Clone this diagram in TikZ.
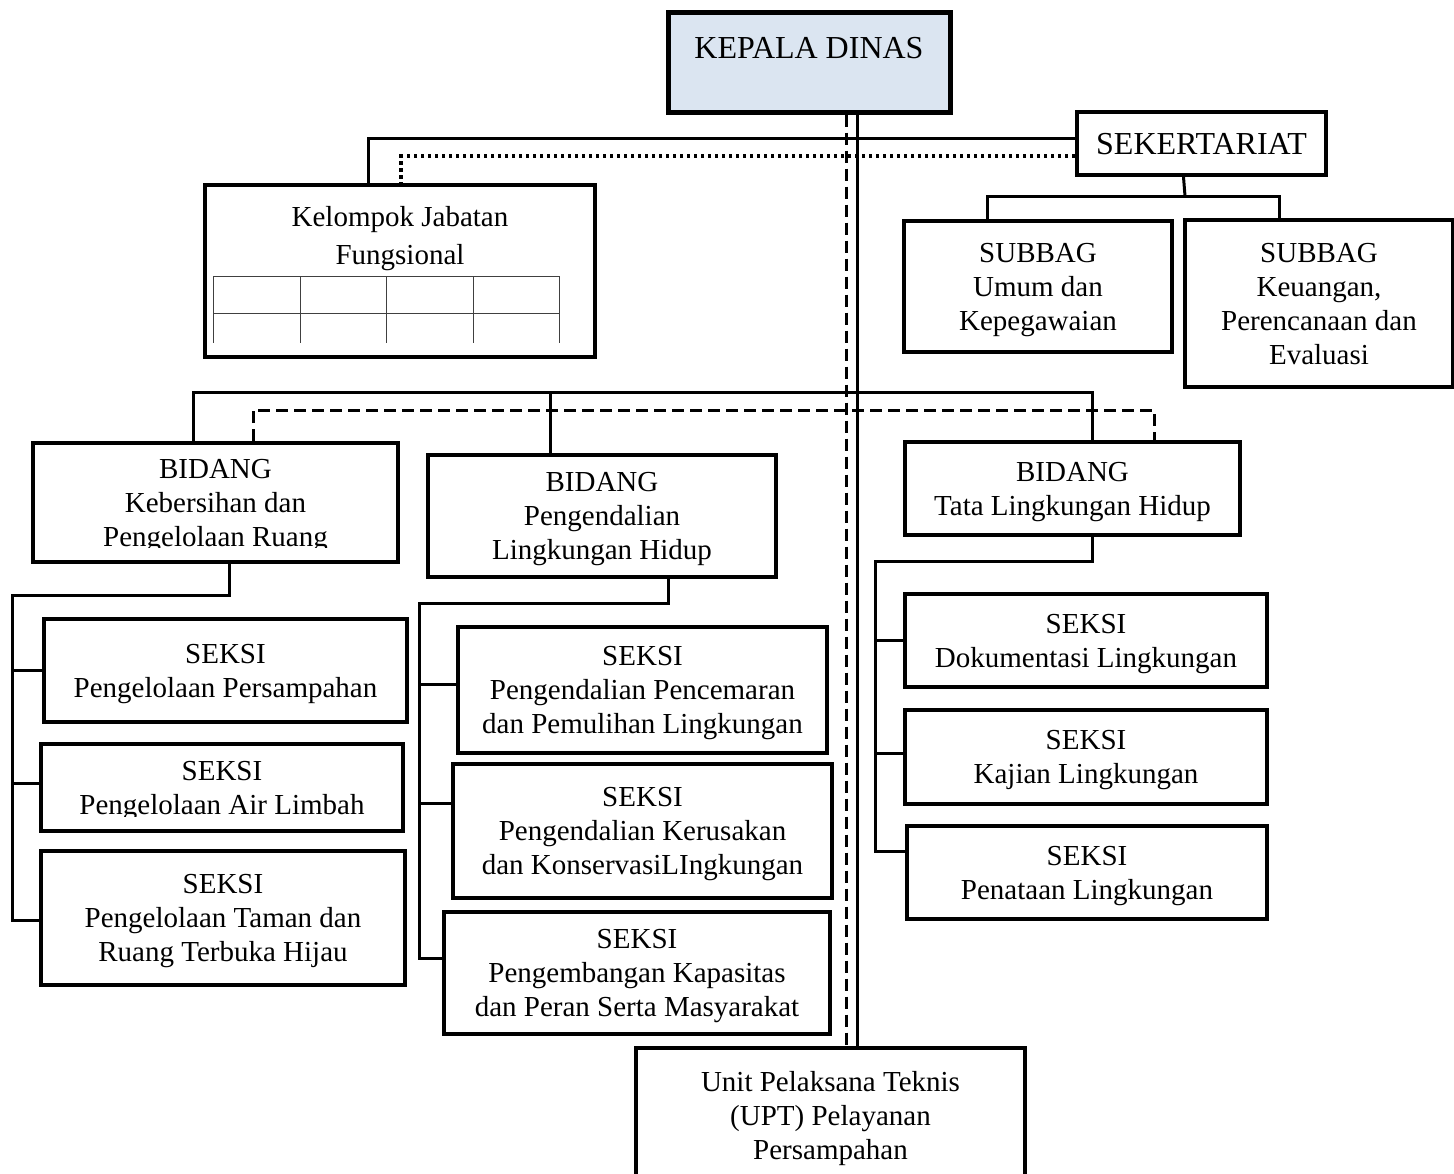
\documentclass[tikz,border=0pt]{standalone}
\usepackage{fontspec}
\setmainfont{Liberation Serif}
\definecolor{kepalablue}{HTML}{DBE5F1}
\begin{document}
\begin{tikzpicture}[x=1pt,y=-1pt,
  unit/.style={draw=black,line width=4pt,rectangle,inner sep=0pt,align=center,text depth=-3pt,font=\fontsize{29}{34}\selectfont},
  caption/.style={inner sep=0pt,align=center,font=\fontsize{29}{34}\selectfont},
  conn/.style={line width=3pt},
  conndash/.style={line width=3pt,dash pattern=on 12pt off 6pt},
  conndot/.style={line width=3.5pt,dash pattern=on 3.5pt off 3.5pt},
  tablegrid/.style={line width=1pt,black!75}]
\useasboundingbox (0,0) rectangle (1454,1173);

%top
\node[unit,fill=kepalablue,line width=5pt,minimum width=282pt,minimum height=100pt,font=\fontsize{32}{34}\selectfont] (kd) at (809,62) {KEPALA DINAS\\[-6pt]~};
\node[unit,minimum width=249pt,minimum height=63pt,font=\fontsize{32}{34}\selectfont] (sek) at (1201.5,143.5) {SEKERTARIAT};
\node[unit,minimum width=268pt,minimum height=131pt] (sb1) at (1038,286.5) {SUBBAG\\Umum dan\\Kepegawaian};
\node[unit,minimum width=268pt,minimum height=167pt] (sb2) at (1319,303.5) {SUBBAG\\Keuangan,\\Perencanaan dan\\Evaluasi};

%kelompok jabatan fungsional
\node[unit,minimum width=390pt,minimum height=172pt] (kjf) at (400,271) {};
\node[caption] (kjftext) at (400,239) {Kelompok Jabatan\\[4pt]Fungsional};
\foreach \x in {213,300,386,473,559}
  \draw[tablegrid] (\x,276) -- (\x,343);
\foreach \y in {276,313}
  \draw[tablegrid] (213,\y) -- (559,\y);

%bidang
\node[unit,minimum width=365pt,minimum height=119pt] (bd1) at (215.5,502.5) {BIDANG\\Kebersihan dan\\Pengelolaan Ruang};
\node[unit,minimum width=348pt,minimum height=122pt] (bd2) at (602,516) {BIDANG\\Pengendalian\\Lingkungan Hidup};
\node[unit,minimum width=335pt,minimum height=93pt] (bd3) at (1072.5,488.5) {BIDANG\\Tata Lingkungan Hidup};

%seksi
\node[unit,minimum width=363pt,minimum height=103pt] (s1a) at (225.5,670.5) {SEKSI\\Pengelolaan Persampahan};
\node[unit,minimum width=362pt,minimum height=87pt] (s1b) at (222,787.5) {SEKSI\\Pengelolaan Air Limbah};
\node[unit,minimum width=364pt,minimum height=134pt] (s1c) at (223,918) {SEKSI\\Pengelolaan Taman dan\\Ruang Terbuka Hijau};
\node[unit,minimum width=369pt,minimum height=126pt] (s2a) at (642.5,690) {SEKSI\\Pengendalian Pencemaran\\dan Pemulihan Lingkungan};
\node[unit,minimum width=379pt,minimum height=134pt] (s2b) at (642.5,831) {SEKSI\\Pengendalian Kerusakan\\dan KonservasiLIngkungan};
\node[unit,minimum width=386pt,minimum height=122pt] (s2c) at (637,973) {SEKSI\\Pengembangan Kapasitas\\dan Peran Serta Masyarakat};
\node[unit,minimum width=362pt,minimum height=93pt] (s3a) at (1086,640.5) {SEKSI\\Dokumentasi Lingkungan};
\node[unit,minimum width=362pt,minimum height=94pt] (s3b) at (1086,757) {SEKSI\\Kajian Lingkungan};
\node[unit,minimum width=360pt,minimum height=93pt] (s3c) at (1087,872.5) {SEKSI\\Penataan Lingkungan};

%cut off text
\fill[white] (37,548) rectangle (394,559);
\fill[white] (45,817) rectangle (399,828);

%upt
\node[unit,minimum width=389pt,minimum height=134pt] (upt) at (830.5,1115) {Unit Pelaksana Teknis\\(UPT) Pelayanan\\Persampahan};

%sekretariat lines
\draw[conn] ([yshift=5.5pt]sek.west) -| ([xshift=-32pt]kjf.north);
\draw[conndot] ([yshift=-12.5pt]sek.west) -| ([xshift=1pt]kjf.north);
\coordinate (sekjoint) at (1185,196);
\draw[conn] ([xshift=-18pt]sek.south) -- (sekjoint);
\draw[conn] ([xshift=-51pt]sb1.north) |- (sekjoint) -| ([xshift=-40pt]sb2.north);

%kepala dinas to upt
\draw[conn] ([xshift=48pt]kd.south) -- ([xshift=48pt]kd.south |- upt.north);
\draw[conndash] ([xshift=37pt]kd.south) -- ([xshift=37pt]kd.south |- upt.north);

%bidang lines
\coordinate (bus) at (857,392);
\coordinate (dashbus) at (846,410);
\draw[conn] ([xshift=-22.5pt]bd1.north) |- (bus) -| ([xshift=19.5pt]bd3.north);
\draw[conn] ([xshift=-52pt]bd2.north) -- ([xshift=-52pt]bd2.north |- bus);
\draw[conndash] ([xshift=37.5pt]bd1.north) |- (dashbus) -| ([xshift=81.5pt]bd3.north);

%seksi lines
\coordinate (rail1) at (12.7,595);
\coordinate (rail2) at (419,603);
\coordinate (rail3) at (875,561);
\draw[conn] ([xshift=13.5pt]bd1.south) |- (rail1) |- ([yshift=-2pt]s1c.west);
\draw[conn] ([xshift=66pt]bd2.south) |- (rail2) |- ([yshift=15pt]s2c.west);
\draw[conn] ([xshift=19.5pt]bd3.south) |- (rail3) |- ([yshift=21.5pt]s3c.west);
\foreach \n/\s/\r in {s1a/0/rail1,s1b/4.5/rail1,s2a/6/rail2,s2b/28/rail2,s3a/0/rail3,s3b/4/rail3}
  \draw[conn] ([yshift=\s pt]\n.west) -- ([yshift=\s pt]\n.west -| \r);
\end{tikzpicture}
\end{document}
